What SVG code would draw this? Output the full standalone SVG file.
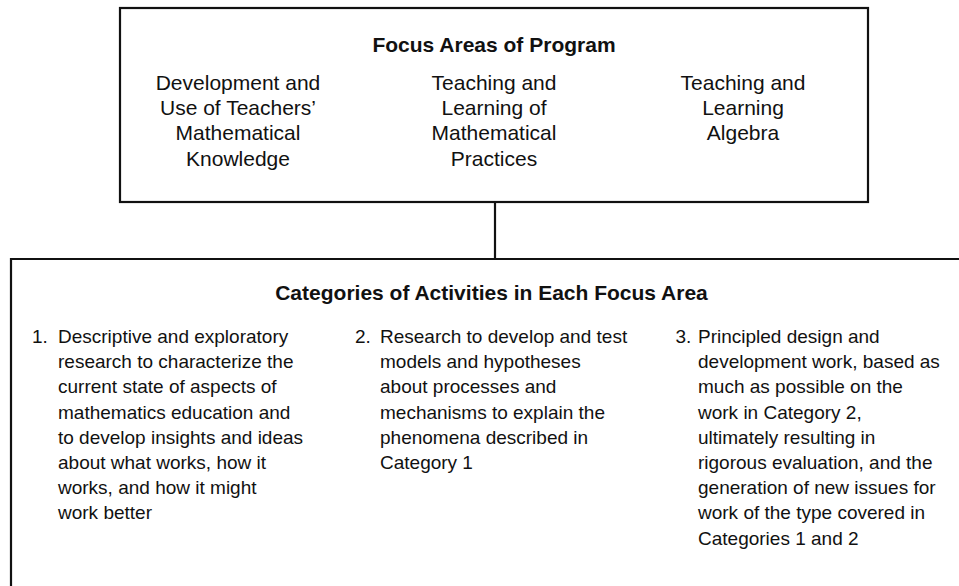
<svg xmlns="http://www.w3.org/2000/svg" width="959" height="586" viewBox="0 0 959 586">
  <style>
    .box { fill: #ffffff; stroke: #111111; stroke-width: 2.2; }
    .conn { fill: none; stroke: #111111; stroke-width: 2.2; }
    text { font-family: "Liberation Sans", Arial, Helvetica, sans-serif; fill: #111111; }
    .title { font-size: 21px; font-weight: bold; text-anchor: middle; }
    .area { font-size: 21px; text-anchor: middle; }
    .item { font-size: 19px; }
  </style>
  <rect x="0" y="0" width="959" height="586" fill="#ffffff"/>
  <g id="connectors">
    <line class="conn" x1="495" y1="202" x2="495" y2="259"/>
  </g>
  <g id="focus-areas">
    <rect class="box" x="120" y="8" width="748" height="194"/>
    <text class="title" x="494" y="52">Focus Areas of Program</text>
    <text class="area" x="238" y="90"><tspan x="238">Development and</tspan><tspan x="238" dy="25.2">Use of Teachers’</tspan><tspan x="238" dy="25.2">Mathematical</tspan><tspan x="238" dy="25.2">Knowledge</tspan></text>
    <text class="area" x="494" y="90"><tspan x="494">Teaching and</tspan><tspan x="494" dy="25.2">Learning of</tspan><tspan x="494" dy="25.2">Mathematical</tspan><tspan x="494" dy="25.2">Practices</tspan></text>
    <text class="area" x="743" y="90"><tspan x="743">Teaching and</tspan><tspan x="743" dy="25.2">Learning</tspan><tspan x="743" dy="25.2">Algebra</tspan></text>
  </g>
  <g id="categories">
    <path class="box" d="M 11 590 L 11 259 L 962 259"/>
    <text class="title" x="491.5" y="300">Categories of Activities in Each Focus Area</text>
    <text class="item" x="32" y="343">1.</text>
    <text class="item" x="58" y="343"><tspan x="58">Descriptive and exploratory</tspan><tspan x="58" dy="25.2">research to characterize the</tspan><tspan x="58" dy="25.2">current state of aspects of</tspan><tspan x="58" dy="25.2">mathematics education and</tspan><tspan x="58" dy="25.2">to develop insights and ideas</tspan><tspan x="58" dy="25.2">about what works, how it</tspan><tspan x="58" dy="25.2">works, and how it might</tspan><tspan x="58" dy="25.2">work better</tspan></text>
    <text class="item" x="355" y="343">2.</text>
    <text class="item" x="380" y="343"><tspan x="380">Research to develop and test</tspan><tspan x="380" dy="25.2">models and hypotheses</tspan><tspan x="380" dy="25.2">about processes and</tspan><tspan x="380" dy="25.2">mechanisms to explain the</tspan><tspan x="380" dy="25.2">phenomena described in</tspan><tspan x="380" dy="25.2">Category 1</tspan></text>
    <text class="item" x="675.5" y="343">3.</text>
    <text class="item" x="698" y="343"><tspan x="698">Principled design and</tspan><tspan x="698" dy="25.2">development work, based as</tspan><tspan x="698" dy="25.2">much as possible on the</tspan><tspan x="698" dy="25.2">work in Category 2,</tspan><tspan x="698" dy="25.2">ultimately resulting in</tspan><tspan x="698" dy="25.2">rigorous evaluation, and the</tspan><tspan x="698" dy="25.2">generation of new issues for</tspan><tspan x="698" dy="25.2">work of the type covered in</tspan><tspan x="698" dy="25.2">Categories 1 and 2</tspan></text>
  </g>
</svg>
